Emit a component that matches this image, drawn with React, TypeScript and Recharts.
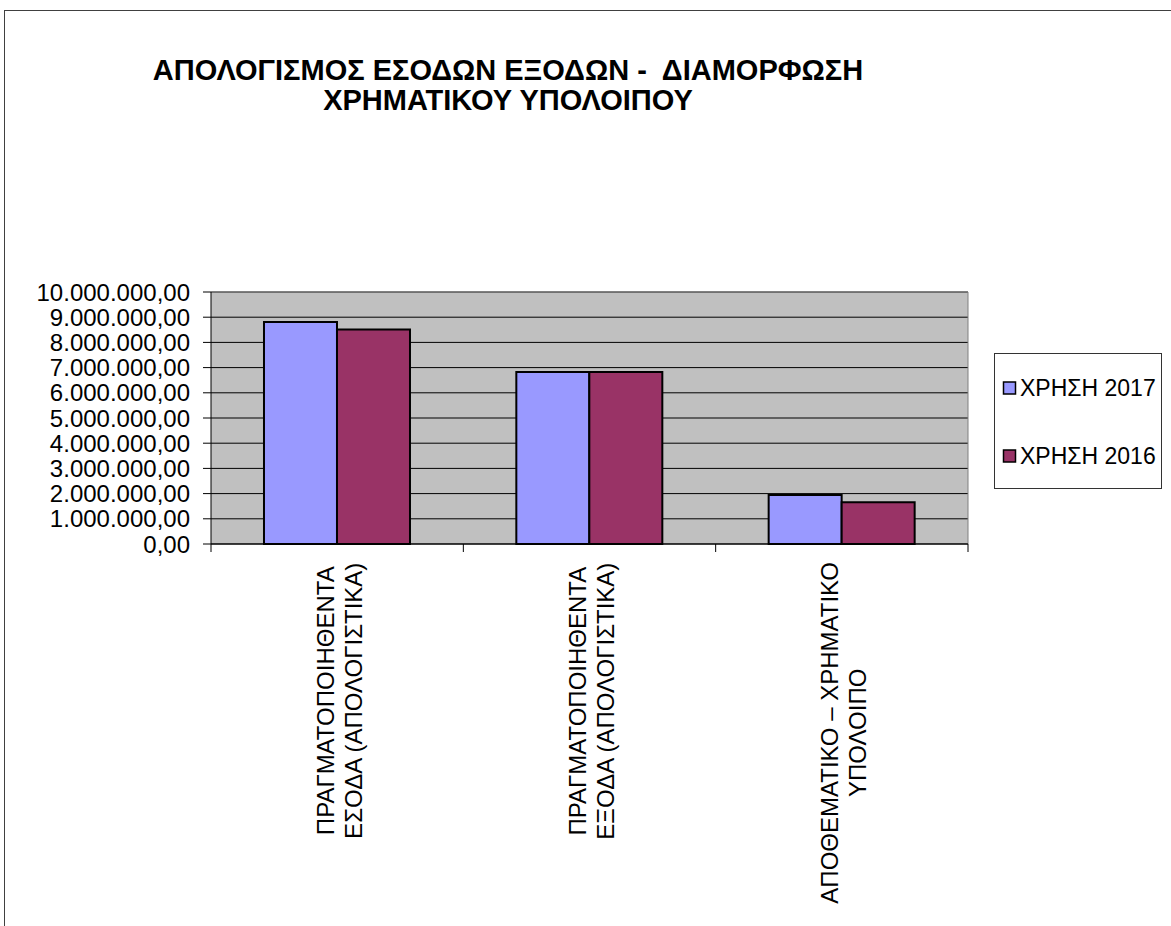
import { Bar, BarChart, CartesianGrid, XAxis, YAxis } from "recharts";

const FONT = "'Liberation Sans', Arial, sans-serif";

const TITLE_LINES = ["ΑΠΟΛΟΓΙΣΜΟΣ ΕΣΟΔΩΝ ΕΞΟΔΩΝ -  ΔΙΑΜΟΡΦΩΣΗ", "ΧΡΗΜΑΤΙΚΟΥ ΥΠΟΛΟΙΠΟΥ"];

const CATEGORIES = [
  "ΠΡΑΓΜΑΤΟΠΟΙΗΘΕΝΤΑ\nΕΣΟΔΑ (ΑΠΟΛΟΓΙΣΤΙΚΑ)",
  "ΠΡΑΓΜΑΤΟΠΟΙΗΘΕΝΤΑ\nΕΞΟΔΑ (ΑΠΟΛΟΓΙΣΤΙΚΑ)",
  "ΑΠΟΘΕΜΑΤΙΚΟ – ΧΡΗΜΑΤΙΚΟ\nΥΠΟΛΟΙΠΟ",
];

const VALUES_2017 = [8810000, 6830000, 1940000];
const VALUES_2016 = [8510000, 6830000, 1660000];

const SERIES = [
  { key: "y2017", name: "ΧΡΗΣΗ 2017", color: "#9999FF" },
  { key: "y2016", name: "ΧΡΗΣΗ 2016", color: "#993366" },
];

const Y_TICKS = [0, 1000000, 2000000, 3000000, 4000000, 5000000, 6000000, 7000000, 8000000, 9000000, 10000000];

const data = CATEGORIES.map((name, i) => ({ name, y2017: VALUES_2017[i], y2016: VALUES_2016[i] }));

// chart geometry
const W = 1171;
const H = 926;
const PLOT_LEFT = 211;
const PLOT_RIGHT = 968;
const PLOT_TOP = 292;
const PLOT_BOTTOM = 544;
const PLOT_W = PLOT_RIGHT - PLOT_LEFT;
const X_TICK_SIZE = 8;
const X_TICK_MARGIN = 10;
const X_FONT = 24;

// greek number format: 10.000.000,00
function fmt(v: number) {
  const s = String(Math.round(v)).replace(/\B(?=(\d{3})+(?!\d))/g, ".");
  return `${s},00`;
}

let ctx: CanvasRenderingContext2D | null = null;
function textWidth(t: string, font: string, size: number) {
  if (!ctx && typeof document !== "undefined") ctx = document.createElement("canvas").getContext("2d");
  if (!ctx) return t.length * size * 0.62;
  ctx.font = font;
  return ctx.measureText(t).width;
}

function YTick({ x, y, payload }: any) {
  return (
    <text x={x} y={y} dy="0.355em" textAnchor="end" fontSize={24} fontFamily={FONT} fill="#000">
      {fmt(payload.value)}
    </text>
  );
}

const LINE_OFFSETS = [-12, 16];

function XTick({ x, y, payload, index }: any) {
  const lines = String(payload.value).split("\n");
  const axisY = y - X_TICK_SIZE - X_TICK_MARGIN;
  const half = PLOT_W / CATEGORIES.length / 2;
  const L = Math.max(...lines.map((t) => textWidth(t, `${X_FONT}px 'Liberation Sans', Arial`, X_FONT)));
  return (
    <g>
      {index === 0 && <line x1={x - half} y1={axisY} x2={x - half} y2={axisY + X_TICK_SIZE} stroke="#000" />}
      <line x1={x + half} y1={axisY} x2={x + half} y2={axisY + X_TICK_SIZE} stroke="#000" />
      <g transform={`translate(${x},${y}) rotate(-90)`}>
        {lines.map((t, i) => (
          <text
            key={i}
            x={-L / 2}
            y={LINE_OFFSETS[i]}
            dy="0.355em"
            textAnchor="middle"
            fontSize={X_FONT}
            fontFamily={FONT}
            fill="#000"
          >
            {t}
          </text>
        ))}
      </g>
    </g>
  );
}

export default function App() {
  return (
    <div style={{ position: "absolute", left: 0, top: 0, width: W, height: H, overflow: "hidden", background: "#fff" }}>
      {/* outer chart frame */}
      <div
        style={{
          position: "absolute",
          left: 4,
          top: 10,
          width: W + 40,
          height: H + 40,
          border: "1px solid #404040",
          boxSizing: "border-box",
        }}
      />
      <div style={{ position: "absolute", left: 0, top: 0 }}>
        <BarChart
          width={W}
          height={H}
          data={data}
          barCategoryGap="21%"
          barGap={0}
          margin={{ top: PLOT_TOP, right: W - PLOT_RIGHT, bottom: 0, left: 0 }}
          style={{ fontFamily: FONT }}
        >
          <CartesianGrid vertical={false} stroke="#000" fill="#C0C0C0" fillOpacity={1} />
          <CartesianGrid
            stroke="#808080"
            horizontalCoordinatesGenerator={({ offset }: any) => [offset.top]}
            verticalCoordinatesGenerator={({ offset }: any) => [offset.left + offset.width]}
          />
          <XAxis
            dataKey="name"
            height={H - PLOT_BOTTOM}
            interval={0}
            tickLine={false}
            tickSize={X_TICK_SIZE}
            tickMargin={X_TICK_MARGIN}
            axisLine={{ stroke: "#000" }}
            tick={<XTick />}
          />
          <YAxis
            width={PLOT_LEFT}
            domain={[0, 10000000]}
            ticks={Y_TICKS}
            interval={0}
            tickSize={8}
            tickMargin={13}
            axisLine={{ stroke: "#000" }}
            tickLine={{ stroke: "#000" }}
            tick={<YTick />}
          />
          {SERIES.map((s) => (
            <Bar
              key={s.key}
              dataKey={s.key}
              name={s.name}
              fill={s.color}
              stroke="#000"
              strokeWidth={2}
              isAnimationActive={false}
            />
          ))}
        </BarChart>
      </div>
      {/* title and legend */}
      <svg width={W} height={H} style={{ position: "absolute", left: 0, top: 0, pointerEvents: "none" }}>
        {TITLE_LINES.map((t, i) => (
          <text
            key={i}
            x={508}
            y={80 + i * 30}
            textAnchor="middle"
            fontSize={29}
            fontWeight="bold"
            fontFamily={FONT}
            fill="#000"
            style={{ whiteSpace: "pre" }}
          >
            {t}
          </text>
        ))}
        <rect x={994.5} y={353.5} width={167} height={135} fill="#fff" stroke="#333" />
        {SERIES.map((s, i) => {
          const cy = 388 + i * 68;
          return (
            <g key={s.key}>
              <rect x={1003.5} y={cy - 6} width={12} height={12} fill={s.color} stroke="#000" strokeWidth={1.5} />
              <text x={1020} y={cy} dy="0.355em" fontSize={23} fontFamily={FONT} fill="#000">
                {s.name}
              </text>
            </g>
          );
        })}
      </svg>
    </div>
  );
}
